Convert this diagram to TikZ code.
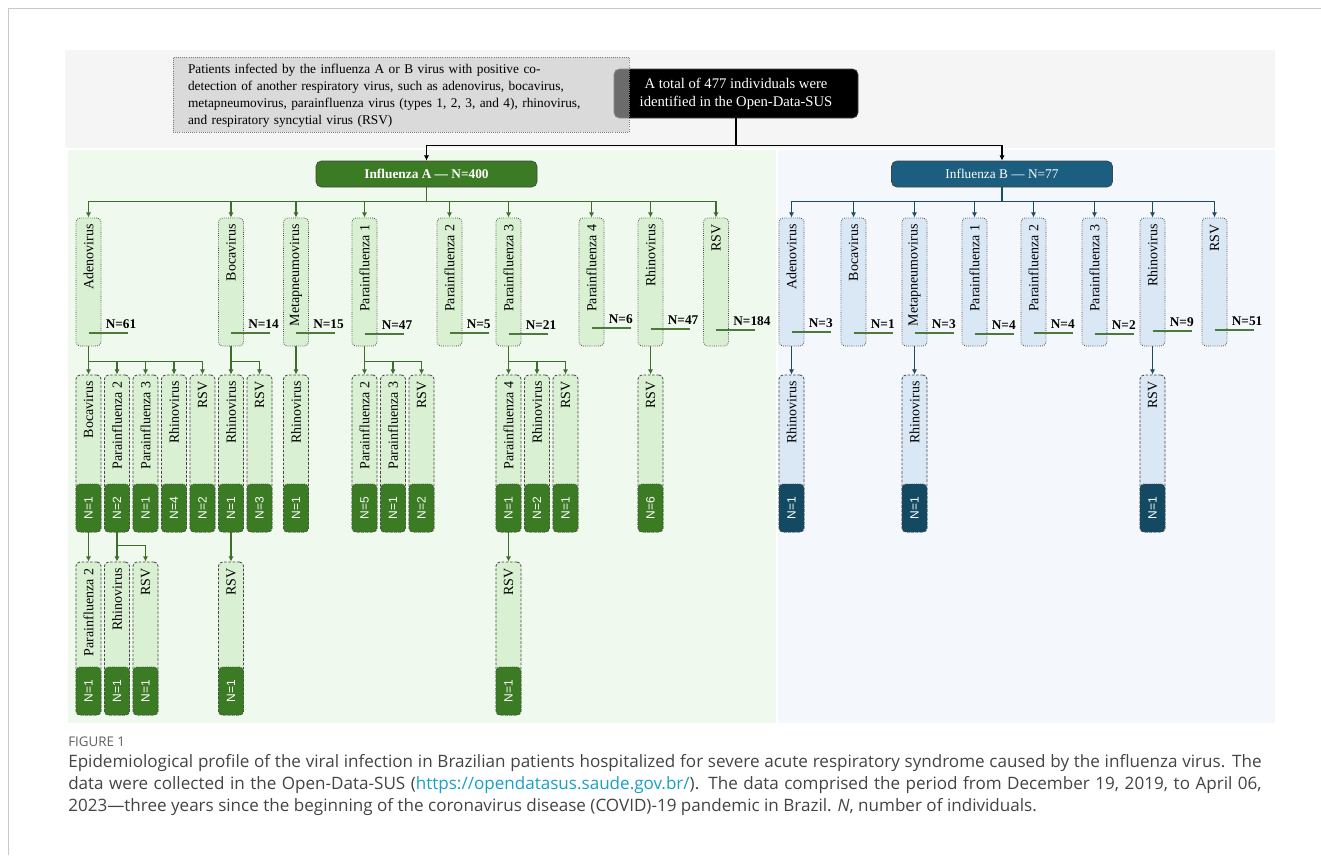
\documentclass[tikz,border=0pt]{standalone}
\usepackage{fontspec}
\setmainfont{Liberation Serif}
\newfontfamily\capfont{Open Sans}
\newfontfamily\numfont{Liberation Sans}
\usetikzlibrary{arrows.meta}

\definecolor{PanelGray}{HTML}{F5F5F5}
\definecolor{PanelA}{HTML}{F0F9EE}
\definecolor{PanelB}{HTML}{F4F8FC}
\definecolor{NoteGray}{HTML}{C4C4C4}
\definecolor{EdgeGray}{HTML}{454545}
\definecolor{LightA}{HTML}{D9F1D2}
\definecolor{DarkA}{HTML}{3B7B23}
\definecolor{LightB}{HTML}{DAE8F6}
\definecolor{DarkB}{HTML}{134A62}
\definecolor{HeadB}{HTML}{1B5E80}
\definecolor{LinkA}{HTML}{3D6E2B}
\definecolor{LinkB}{HTML}{1D4B62}
\definecolor{NLine}{HTML}{4B7A3C}
\definecolor{FrameGray}{HTML}{C8C8C8}
\definecolor{CapText}{HTML}{444444}
\definecolor{CapLink}{HTML}{1AA0C8}

\begin{document}
\begin{tikzpicture}[
x=0.75pt, y=-0.75pt,
lvone/.style={draw=EdgeGray, densely dotted, line width=0.6pt, rounded corners=3pt, minimum width=18.75pt, minimum height=96pt, inner sep=0pt},
lvtwo/.style={draw=EdgeGray, dash pattern=on 2pt off 1.2pt, line width=0.6pt, rounded corners=3pt, minimum width=18.75pt, inner sep=0pt},
countbox/.style={rotate=90, anchor=west, draw=EdgeGray, densely dotted, line width=0.6pt, rounded corners=3pt, minimum width=36pt, minimum height=18.75pt, inner sep=0pt, text=white, font=\numfont\fontsize{9}{10}\selectfont},
vlabel/.style={rotate=90, anchor=east, inner sep=0pt, font=\fontsize{10.5}{12}\selectfont},
nlabel/.style={anchor=base west, inner sep=0pt, font=\bfseries\fontsize{10}{12}\selectfont},
nline/.style={NLine, line width=0.8pt},
linkA/.style={LinkA, line width=1pt},
linkB/.style={LinkB, line width=1pt},
linkT/.style={black, line width=1pt},
arrow/.style={-{Latex[length=4pt, width=4pt]}},
head/.style={draw=EdgeGray, line width=0.5pt, rounded corners=4pt, minimum width=165.75pt, minimum height=19.5pt, text=white, font=\fontsize{10}{12}\selectfont},
note/.style={draw=EdgeGray!70, densely dotted, line width=0.6pt, fill=NoteGray, fill opacity=0.55, text opacity=1, minimum height=56.25pt, text width=319.5pt, inner xsep=11.25pt, align=left, font=\fontsize{10}{12.75}\selectfont},
total/.style={fill=black, draw=EdgeGray, line width=0.5pt, rounded corners=4pt, minimum width=183pt, minimum height=36.75pt, text=white, align=center, font=\fontsize{11}{13.5}\selectfont},
capline/.style={anchor=west, inner sep=0pt, text=CapText, font=\capfont\fontsize{12.8}{14}\selectfont}
]
\useasboundingbox (0,0) rectangle (1321,861);
\fill[white] (0,0) rectangle (1321,861);
\draw[FrameGray, line width=0.75pt] (8,855) -- (8,8) -- (1321,8);

% panels
\fill[PanelGray] (65,50) rectangle (1275,148);
\fill[PanelA] (68,150) rectangle (776,723);
\fill[PanelB] (778,150) rectangle (1275,723);

% top
\node[total] (total) at (736,93.5) {A total of 477 individuals were\\identified in the Open-Data-SUS};
\node[note] (note) at (401,94.5) {\strut Patients infected by the influenza A or B virus with positive co-\\detection of another respiratory virus, such as adenovirus, bocavirus,\\metapneumovirus, parainfluenza virus (types 1, 2, 3, and 4), rhinovirus,\\and respiratory syncytial virus (RSV)};

\node[head, fill=DarkA] (infA) at (426.5,174) {\bfseries Influenza A — N=400};
\node[head, fill=HeadB] (infB) at (1002,174) {Influenza B — N=77};

\draw[linkT] (total.south) -- ++(0,27) coordinate (topbar);
\draw[linkT, arrow] (topbar) -| (infA.north);
\draw[linkT, arrow] (topbar) -| (infB.north);

% first level
\foreach \nm/\cx/\lbl/\nn/\ly in {aAde/88.5/Adenovirus/61/333, aBoc/231/Bocavirus/14/333, aMet/296/Metapneumovirus/15/333, aPa1/364.5/Parainfluenza 1/47/334, aPa2/449.5/Parainfluenza 2/5/333, aPa3/508.5/Parainfluenza 3/21/334, aPa4/591.5/Parainfluenza 4/6/328, aRhi/650.5/Rhinovirus/47/329, aRsv/716/RSV/184/330}{
  \node[lvone, fill=LightA] (\nm) at (\cx,282) {};
  \node[vlabel] (\nm-t) at ([yshift=-5pt]\nm.north) {\lbl};
  \draw[nline] (\cx,\ly) -- ++(39,0);
  \node[nlabel] (\nm-n) at (\cx+17,\ly-4.5) {N=\nn};
}
\foreach \nm/\cx/\lbl/\nn/\ly in {bAde/791.5/Adenovirus/3/332, bBoc/853.5/Bocavirus/1/333, bMet/914.5/Metapneumovirus/3/333, bPa1/974.5/Parainfluenza 1/4/334, bPa2/1033.5/Parainfluenza 2/4/333, bPa3/1094.5/Parainfluenza 3/2/334, bRhi/1152.5/Rhinovirus/9/331, bRsv/1214.5/RSV/51/330}{
  \node[lvone, fill=LightB] (\nm) at (\cx,282) {};
  \node[vlabel] (\nm-t) at ([yshift=-5pt]\nm.north) {\lbl};
  \draw[nline] (\cx,\ly) -- ++(39,0);
  \node[nlabel] (\nm-n) at (\cx+17,\ly-4.5) {N=\nn};
}

% second level
\foreach \nm/\cx/\lbl/\nn in {aAdeBoc/88.5/Bocavirus/1, aAdePa2/117/Parainfluenza 2/2, aAdePa3/145.5/Parainfluenza 3/1, aAdeRhi/174/Rhinovirus/4, aAdeRsv/202.5/RSV/2, aBocRhi/231/Rhinovirus/1, aBocRsv/259.5/RSV/3, aMetRhi/296/Rhinovirus/1, aPa1Pa2/364.5/Parainfluenza 2/5, aPa1Pa3/393/Parainfluenza 3/1, aPa1Rsv/421.5/RSV/2, aPa3Pa4/508.5/Parainfluenza 4/1, aPa3Rhi/537/Rhinovirus/2, aPa3Rsv/565.5/RSV/1, aRhiRsv/650.5/RSV/6}{
  \node[lvtwo, fill=LightA, minimum height=117.75pt] (\nm) at (\cx,453.5) {};
  \node[vlabel] (\nm-t) at ([yshift=-5pt]\nm.north) {\lbl};
  \node[countbox, fill=DarkA] (\nm-n) at (\nm.south) {N=\nn};
}
\foreach \nm/\cx/\lbl/\nn in {bAdeRhi/791.5/Rhinovirus/1, bMetRhi/914.5/Rhinovirus/1, bRhiRsv/1152.5/RSV/1}{
  \node[lvtwo, fill=LightB, minimum height=117.75pt] (\nm) at (\cx,453.5) {};
  \node[vlabel] (\nm-t) at ([yshift=-5pt]\nm.north) {\lbl};
  \node[countbox, fill=DarkB] (\nm-n) at (\nm.south) {N=\nn};
}

% third level
\foreach \nm/\cx/\lbl/\nn in {aAdeBocPa2/88.5/Parainfluenza 2/1, aAdePa2Rhi/117/Rhinovirus/1, aAdePa2Rsv/145.5/RSV/1, aBocRhiRsv/231/RSV/1, aPa3Pa4Rsv/508.5/RSV/1}{
  \node[lvtwo, fill=LightA, minimum height=114.75pt] (\nm) at (\cx,638.5) {};
  \node[vlabel] (\nm-t) at ([yshift=-5pt]\nm.north) {\lbl};
  \node[countbox, fill=DarkA] (\nm-n) at (\nm.south) {N=\nn};
}

% Influenza A links
\draw[linkA] (infA.south) -- ++(0,14) coordinate (barA);
\foreach \nm in {aAde,aBoc,aMet,aPa1,aPa2,aPa3,aPa4,aRhi,aRsv}
  \draw[linkA, arrow] (barA) -| (\nm.north);
\draw[linkA] (aAde.south) -- ++(0,15) coordinate (adeBar);
\foreach \nm in {aAdeBoc,aAdePa2,aAdePa3,aAdeRhi,aAdeRsv}
  \draw[linkA, arrow] (adeBar) -| (\nm.north);
\draw[linkA] (aBoc.south) -- ++(0,15) coordinate (bocBar);
\foreach \nm in {aBocRhi,aBocRsv}
  \draw[linkA, arrow] (bocBar) -| (\nm.north);
\draw[linkA, arrow] (aMet.south) -- (aMetRhi.north);
\draw[linkA] (aPa1.south) -- ++(0,15) coordinate (paOneBar);
\foreach \nm in {aPa1Pa2,aPa1Pa3,aPa1Rsv}
  \draw[linkA, arrow] (paOneBar) -| (\nm.north);
\draw[linkA] (aPa3.south) -- ++(0,15) coordinate (paThreeBar);
\foreach \nm in {aPa3Pa4,aPa3Rhi,aPa3Rsv}
  \draw[linkA, arrow] (paThreeBar) -| (\nm.north);
\draw[linkA, arrow] (aRhi.south) -- (aRhiRsv.north);
\draw[linkA, arrow] (aAdeBoc.south) -- (aAdeBocPa2.north);
\draw[linkA] (aAdePa2.south) -- ++(0,13) coordinate (adePaBar);
\foreach \nm in {aAdePa2Rhi,aAdePa2Rsv}
  \draw[linkA, arrow] (adePaBar) -| (\nm.north);
\draw[linkA, arrow] (aBocRhi.south) -- (aBocRhiRsv.north);
\draw[linkA, arrow] (aPa3Pa4.south) -- (aPa3Pa4Rsv.north);

% Influenza B links
\draw[linkB] (infB.south) -- ++(0,14) coordinate (barB);
\foreach \nm in {bAde,bBoc,bMet,bPa1,bPa2,bPa3,bRhi,bRsv}
  \draw[linkB, arrow] (barB) -| (\nm.north);
\draw[linkB, arrow] (bAde.south) -- (bAdeRhi.north);
\draw[linkB, arrow] (bMet.south) -- (bMetRhi.north);
\draw[linkB, arrow] (bRhi.south) -- (bRhiRsv.north);

% caption
\node[capline, text=CapText!85, font=\capfont\fontsize{10}{12}\selectfont] (fig) at (68,742) {FIGURE 1};
\node[capline] (capA) at (68,763) {\makebox[895pt][s]{Epidemiological profile of the viral infection in Brazilian patients hospitalized for severe acute respiratory syndrome caused by the influenza virus. The}};
\node[capline] (capB) at (68,785) {\makebox[895pt][s]{data were collected in the Open-Data-SUS (\textcolor{CapLink}{https://opendatasus.saude.gov.br/}). The data comprised the period from December 19, 2019, to April 06,}};
\node[capline] (capC) at (68,807) {2023—three years since the beginning of the coronavirus disease (COVID)-19 pandemic in Brazil. \textit{N}, number of individuals.};
\end{tikzpicture}
\end{document}
